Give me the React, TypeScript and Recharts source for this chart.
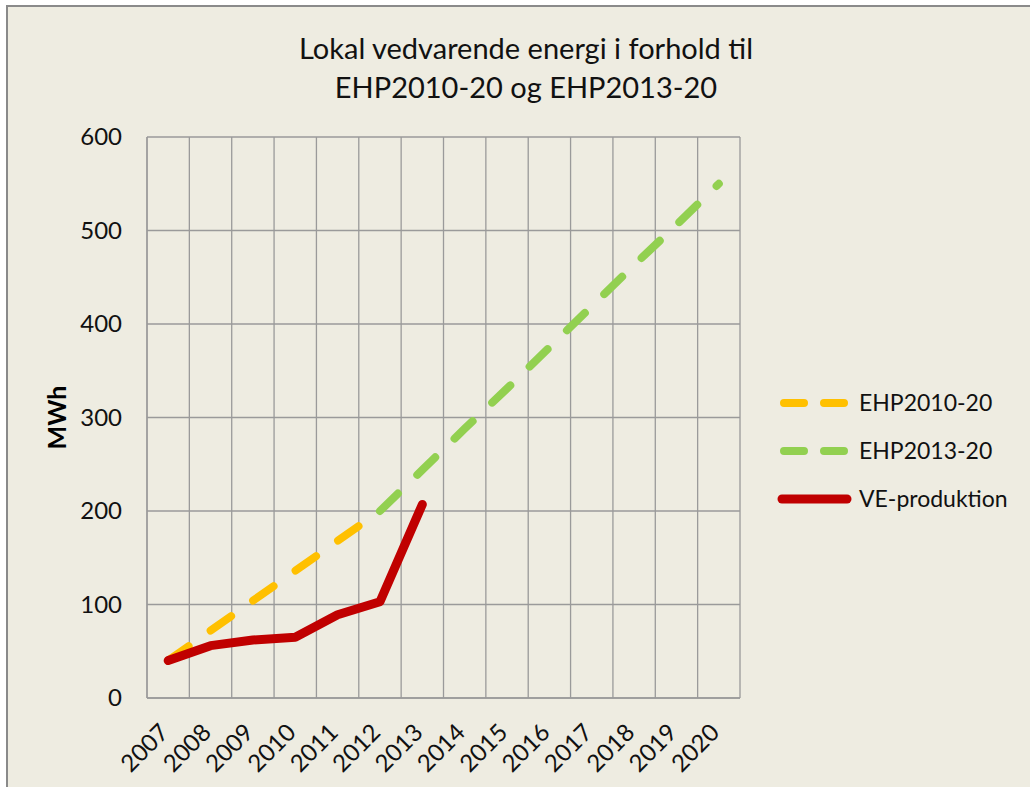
import { CartesianGrid, Line, LineChart, XAxis, YAxis } from "recharts";

const years = ["2007", "2008", "2009", "2010", "2011", "2012", "2013", "2014", "2015", "2016", "2017", "2018", "2019", "2020"];
const ehp2010 = [40, 72, 104, 136, 168, 200, null, null, null, null, null, null, null, null];
const ehp2013 = [null, null, null, null, null, 200, 244, 288, 331, 375, 419, 463, 506, 550];
const veProduktion = [40, 56, 62, 65, 89, 103, 207, null, null, null, null, null, null, null];
const yTicks = [0, 100, 200, 300, 400, 500, 600];

const series = [
  { key: "ehp2010", name: "EHP2010-20", color: "#FFC000", dashed: true },
  { key: "ehp2013", name: "EHP2013-20", color: "#92D050", dashed: true },
  { key: "ve", name: "VE-produktion", color: "#C00000", dashed: false },
];

const data = years.map((year, i) => ({
  year,
  ehp2010: ehp2010[i],
  ehp2013: ehp2013[i],
  ve: veProduktion[i],
}));

const FONT = "Lato, 'Open Sans', sans-serif";
const GRID = "#9a9a9a";

// eslint-disable-next-line @typescript-eslint/no-explicit-any
const XTick = ({ x, y, payload }: any) => (
  <text
    x={x + 2}
    y={y + 36}
    textAnchor="end"
    transform={`rotate(-45 ${x + 2} ${y + 36})`}
    fontFamily={FONT}
    fontSize={24}
    fill="#111"
  >
    {payload.value}
  </text>
);

// eslint-disable-next-line @typescript-eslint/no-explicit-any
const YTick = ({ x, y, payload }: any) => (
  <text x={x - 25} y={y} dy="0.35em" textAnchor="end" fontFamily={FONT} fontSize={24} fill="#111">
    {payload.value}
  </text>
);

export default function App() {
  return (
    <div style={{ position: "absolute", left: 0, top: 0, width: 1030, height: 787, background: "#fff", overflow: "hidden" }}>
      <div
        style={{
          position: "absolute",
          left: 6,
          top: 5,
          width: 1024,
          height: 782,
          boxSizing: "border-box",
          background: "#EEECE1",
          borderLeft: "2px solid #8a8a8a",
          borderTop: "2px solid #8a8a8a",
        }}
      />
      <div
        style={{
          position: "absolute",
          left: 0,
          top: 28,
          width: 1052,
          textAlign: "center",
          fontFamily: FONT,
          fontSize: 29,
          lineHeight: "39px",
          color: "#111",
        }}
      >
        Lokal vedvarende energi i forhold til
        <br />
        EHP2010-20 og EHP2013-20
      </div>
      <div style={{ position: "absolute", left: 0, top: 0 }}>
        <LineChart width={1030} height={787} data={data} margin={{ top: 137, right: 290, bottom: 29, left: 87 }}>
          <CartesianGrid
            stroke={GRID}
            strokeWidth={1.3}
            // eslint-disable-next-line @typescript-eslint/no-explicit-any
            verticalCoordinatesGenerator={({ offset }: any) =>
              Array.from({ length: years.length + 1 }, (_, i) => offset.left + (i * offset.width) / years.length)
            }
          />
          <XAxis
            dataKey="year"
            scale="band"
            interval={0}
            height={60}
            tick={<XTick />}
            tickLine={false}
            tickSize={0}
            tickMargin={0}
            axisLine={{ stroke: GRID, strokeWidth: 1.3 }}
          />
          <YAxis
            width={60}
            domain={[0, 600]}
            ticks={yTicks}
            tick={<YTick />}
            tickLine={false}
            tickSize={0}
            tickMargin={0}
            axisLine={{ stroke: GRID, strokeWidth: 1.3 }}
            label={{
              value: "MWh",
              angle: -90,
              position: "insideLeft",
              offset: -30,
              style: { fontFamily: FONT, fontSize: 25, fontWeight: 700, fill: "#000", textAnchor: "middle" },
            }}
          />
          {series.map((s) => (
            <Line
              key={s.key}
              type="linear"
              dataKey={s.key}
              name={s.name}
              stroke={s.color}
              strokeWidth={s.dashed ? 8 : 9}
              strokeDasharray={s.dashed ? "25 27" : undefined}
              strokeLinecap="round"
              strokeLinejoin="round"
              dot={false}
              activeDot={false}
              isAnimationActive={false}
            />
          ))}
        </LineChart>
      </div>
      <svg width={1030} height={787} style={{ position: "absolute", left: 0, top: 0, pointerEvents: "none" }}>
        {series.map((s, i) => {
          const cy = 403 + i * 48;
          return (
            <g key={s.key}>
              <line
                x1={s.dashed ? 784 : 782}
                x2={s.dashed ? 846 : 847}
                y1={cy}
                y2={cy}
                stroke={s.color}
                strokeWidth={s.dashed ? 8 : 9}
                strokeDasharray={s.dashed ? "20 20" : undefined}
                strokeLinecap="round"
              />
              <text x={859} y={cy} dy="0.35em" fontFamily={FONT} fontSize={23} fill="#111">
                {s.name}
              </text>
            </g>
          );
        })}
      </svg>
    </div>
  );
}
